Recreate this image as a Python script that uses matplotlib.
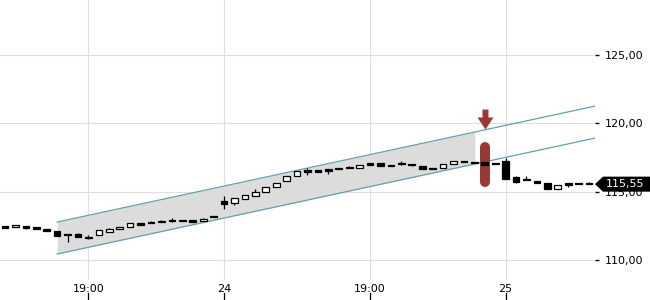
import numpy as np
import matplotlib.pyplot as plt
from matplotlib.patches import Rectangle, Polygon
from matplotlib.path import Path
from matplotlib.transforms import blended_transform_factory


# candle data, one candle per slot
opens = [112.40, 112.44, 112.37, 112.29, 112.17, 112.13, 111.83, 111.88, 111.71, 111.81,
         112.07, 112.25, 112.40, 112.71, 112.78, 112.85, 112.93, 112.93, 112.88, 112.83,
         113.17, 114.34, 114.15, 114.47, 114.66, 114.96, 115.32, 115.78, 116.15, 116.47,
         116.57, 116.64, 116.73, 116.81, 116.73, 117.08, 117.10, 116.93, 117.02, 116.94,
         116.86, 116.66, 116.71, 117.01, 117.27, 117.17, 117.20, 117.02, 117.25, 116.05,
         115.86, 115.80, 115.61, 115.22, 115.53, 115.56, 115.57]
highs = [112.42, 112.56, 112.44, 112.31, 112.22, 112.13, 111.84, 111.98, 111.85, 112.17,
         112.35, 112.42, 112.69, 112.71, 112.86, 112.93, 113.05, 112.93, 112.88, 113.10,
         113.17, 114.71, 114.52, 114.78, 115.17, 115.37, 115.66, 116.13, 116.49, 116.71,
         116.57, 116.64, 116.73, 116.88, 116.97, 117.08, 117.10, 116.93, 117.21, 116.95,
         116.86, 116.73, 117.03, 117.25, 117.27, 117.17, 117.20, 117.02, 117.49, 116.15,
         116.15, 115.80, 115.61, 115.51, 115.66, 115.56, 115.69]
lows = [112.35, 112.40, 112.25, 112.24, 112.10, 111.76, 111.35, 111.69, 111.57, 111.81,
        112.03, 112.25, 112.40, 112.59, 112.69, 112.76, 112.81, 112.84, 112.78, 112.83,
        113.13, 113.71, 114.05, 114.47, 114.66, 114.96, 115.32, 115.78, 116.15, 116.22,
        116.47, 116.30, 116.64, 116.71, 116.73, 116.98, 116.85, 116.86, 116.97, 116.86,
        116.64, 116.63, 116.71, 117.01, 117.15, 117.08, 116.93, 117.00, 115.95, 115.66,
        115.83, 115.61, 115.17, 115.17, 115.37, 115.55, 115.55]
closes = [112.37, 112.47, 112.34, 112.26, 112.14, 111.76, 111.80, 111.69, 111.59, 112.17,
          112.27, 112.42, 112.69, 112.59, 112.69, 112.76, 112.84, 112.84, 112.78, 112.98,
          113.13, 114.08, 114.52, 114.78, 114.96, 115.37, 115.66, 116.13, 116.49, 116.45,
          116.47, 116.51, 116.64, 116.71, 116.97, 116.98, 116.85, 116.86, 117.00, 116.92,
          116.64, 116.63, 117.03, 117.25, 117.15, 117.08, 116.93, 117.00, 115.95, 115.73,
          115.84, 115.61, 115.17, 115.51, 115.51, 115.55, 115.55]

x_tick_pos = [8, 21, 35, 48]
x_tick_labels = ["19:00", "24", "19:00", "25"]
y_ticks = [110, 115, 120, 125]

# trend channel
channel_x = [5, 56.57]
channel_upper = [112.78, 121.26]
channel_lower = [110.44, 118.92]
shade_end = 45.06

# signal marker
signal_idx = 46
signal_low, signal_high = 115.69, 118.29
arrow_price = 120.32

last_price = closes[-1]

fig = plt.figure(figsize=(6.5, 3), dpi=100)
ax = fig.add_axes([0, 20 / 300, 595 / 650, 280 / 300])

for s in ax.spines.values():
    s.set_visible(False)

ax.set_xlim(-0.48, 56.57)
ax.set_ylim(108.54, 129.02)
ax.grid(True, color="#dedede", lw=0.8, zorder=0)
ax.set_axisbelow(True)

ax.set_xticks(x_tick_pos)
ax.set_xticklabels(x_tick_labels)
ax.tick_params(axis="x", length=0, pad=3, labelsize=8)
ax.yaxis.tick_right()
ax.set_yticks(y_ticks)
ax.set_yticklabels([f"{v:.2f}".replace(".", ",") for v in y_ticks])
ax.tick_params(axis="y", length=3, width=1, pad=4, labelsize=8)

# x tick marks sit below the labels
tr = blended_transform_factory(ax.transData, fig.transFigure)
for xp in x_tick_pos:
    ax.plot([xp, xp], [0.0, 0.022], color="black", lw=0.9, transform=tr, clip_on=False)

# channel
sx = np.linspace(channel_x[0], shade_end, 50)
ax.fill_between(sx, np.interp(sx, channel_x, channel_lower), np.interp(sx, channel_x, channel_upper),
                color="#dcdcdc", lw=0, zorder=1)
ax.plot(channel_x, channel_upper, color="#62a2a8", lw=0.9, zorder=2)
ax.plot(channel_x, channel_lower, color="#62a2a8", lw=0.9, zorder=2)

# signal bar + arrow
red = "#983a33"
ax.plot([signal_idx, signal_idx], [signal_low, signal_high], color=red, lw=7.2,
        solid_capstyle="round", zorder=3)
arrow = Path([(-3, 10), (3, 10), (3, 2), (8, 2), (0, -10), (-8, 2), (-3, 2), (-3, 10)])
ax.plot([signal_idx], [arrow_price], marker=arrow, markersize=14.4, color=red,
        markeredgewidth=0, zorder=3)

# candles
for i in range(len(opens)):
    o, h, l, c = opens[i], highs[i], lows[i], closes[i]
    ax.vlines(i, l, h, color="black", lw=0.9, zorder=4)
    bottom = min(o, c)
    height = max(abs(c - o), 0.12)
    face = "white" if c > o else "black"
    ax.add_patch(Rectangle((i - 0.32, bottom), 0.64, height, facecolor=face,
                           edgecolor="black", lw=0.9, zorder=5))

# last price tag
tr2 = blended_transform_factory(fig.transFigure, ax.transData)
hh = 0.55
tag = Polygon([(595 / 650, last_price), (603 / 650, last_price + hh), (1.0, last_price + hh),
               (1.0, last_price - hh), (603 / 650, last_price - hh)],
              closed=True, facecolor="black", edgecolor="none", transform=tr2,
              clip_on=False, zorder=10)
ax.add_patch(tag)
ax.text(606 / 650, last_price, f"{last_price:.2f}".replace(".", ","), color="white",
        fontsize=8, va="center", ha="left", transform=tr2, zorder=11)

fig.savefig("out.png", dpi=100)
